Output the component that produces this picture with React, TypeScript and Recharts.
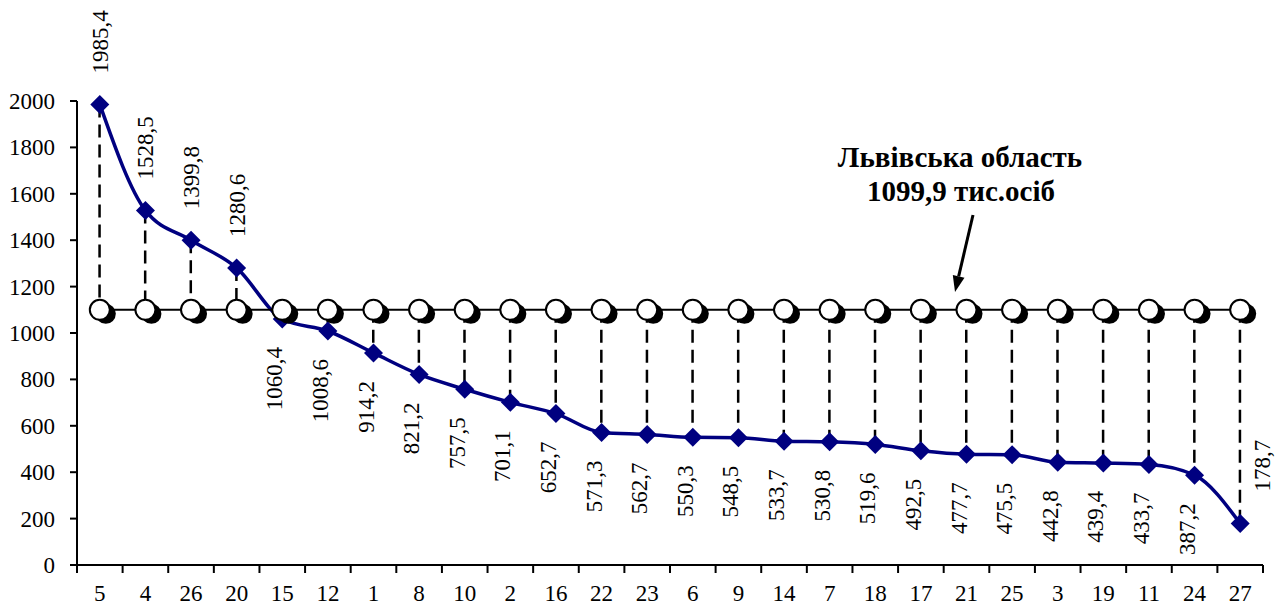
import React from "react";
import { Bar, ComposedChart, Line, XAxis, YAxis } from "recharts";

const WIDTH = 1275;
const HEIGHT = 612;
const FONT = "'Liberation Serif', 'Times New Roman', serif";
const TEXT_STYLE = { fontFamily: FONT, fontSize: 23, fill: "#000" };

const districts = ["5", "4", "26", "20", "15", "12", "1", "8", "10", "2", "16", "22", "23", "6", "9", "14", "7", "18", "17", "21", "25", "3", "19", "11", "24", "27"];
const population = [1985.4, 1528.5, 1399.8, 1280.6, 1060.4, 1008.6, 914.2, 821.2, 757.5, 701.1, 652.7, 571.3, 562.7, 550.3, 548.5, 533.7, 530.8, 519.6, 492.5, 477.7, 475.5, 442.8, 439.4, 433.7, 387.2, 178.7];
const regionAverage = 1099.9;
const yTicks = [0, 200, 400, 600, 800, 1000, 1200, 1400, 1600, 1800, 2000];

const data = districts.map((name, i) => ({
  name,
  value: population[i],
  region: regionAverage,
  gap: [Math.min(population[i], regionAverage), Math.max(population[i], regionAverage)],
}));

const MARGIN = { top: 101, right: 12, left: 0, bottom: 0 };
const Y_AXIS_W = 77;
const X_AXIS_H = 47;
const STEP = (WIDTH - MARGIN.right - Y_AXIS_W) / districts.length;

const fmt = (v: number) => v.toFixed(1).replace(".", ",");

// dashed connector between a district value and the regional level
function DashShape(props: any) {
  const { x, y, width, height } = props;
  const cx = x + width / 2;
  return <line x1={cx} y1={y} x2={cx} y2={y + height} stroke="#000" strokeWidth={2.5} strokeDasharray="13 7" />;
}

function Diamond(props: any) {
  const { cx, cy } = props;
  if (cx == null || cy == null) return null;
  const r = 9.5;
  return <polygon points={`${cx},${cy - r} ${cx + r},${cy} ${cx},${cy + r} ${cx - r},${cy}`} fill="#000080" />;
}

function RingDot(props: any) {
  const { cx, cy } = props;
  if (cx == null || cy == null) return null;
  return (
    <g>
      <circle cx={cx + 6} cy={cy + 4} r={10} fill="#000" />
      <circle cx={cx} cy={cy} r={10} fill="#fff" stroke="#000" strokeWidth={2} />
    </g>
  );
}

function ValueLabel(props: any) {
  const { x, y, index, value } = props;
  if (x == null || y == null) return null;
  const last = index === population.length - 1;
  let ax = x, ay = y, anchor = "end";
  if (last) {
    ax = x + 22; ay = y - 58; anchor = "middle";
  } else if (value > regionAverage) {
    ay = y - 31; anchor = "start";
  } else {
    ax = x - 8; ay = y + 28; anchor = "end";
  }
  return (
    <text x={ax} y={ay} dy="0.35em" transform={`rotate(-90, ${ax}, ${ay})`} textAnchor={anchor} style={TEXT_STYLE}>
      {fmt(value)}
    </text>
  );
}

function XTick(props: any) {
  const { x, y, payload, index } = props;
  const last = index === districts.length - 1;
  return (
    <g>
      <line x1={x - STEP / 2} y1={y - 8} x2={x - STEP / 2} y2={y} stroke="#000" strokeWidth={2} />
      {last && <line x1={x + STEP / 2} y1={y - 8} x2={x + STEP / 2} y2={y} stroke="#000" strokeWidth={2} />}
      <text x={x} y={y + 28} textAnchor="middle" style={TEXT_STYLE}>
        {payload.value}
      </text>
    </g>
  );
}

function YTick(props: any) {
  const { x, y, payload } = props;
  return (
    <text x={x - 13} y={y} dy="0.35em" textAnchor="end" style={TEXT_STYLE}>
      {payload.value}
    </text>
  );
}

function Annotation() {
  const tip = { x: 955, y: 292 };
  const tail = { x: 973, y: 215 };
  const dx = tip.x - tail.x, dy = tip.y - tail.y;
  const len = Math.hypot(dx, dy);
  const ux = dx / len, uy = dy / len;
  const bx = tip.x - ux * 16, by = tip.y - uy * 16;
  const px = -uy, py = ux;
  const titleStyle = { fontFamily: FONT, fontSize: 29, fontWeight: "bold" as const, fill: "#000" };
  return (
    <svg width={WIDTH} height={HEIGHT} style={{ position: "absolute", left: 0, top: 0, pointerEvents: "none" }}>
      <text x={960} y={167} textAnchor="middle" style={titleStyle}>Львівська область</text>
      <text x={961} y={201} textAnchor="middle" style={titleStyle}>1099,9 тис.осіб</text>
      <line x1={tail.x} y1={tail.y} x2={bx} y2={by} stroke="#000" strokeWidth={3} />
      <polygon points={`${tip.x},${tip.y} ${bx + px * 6},${by + py * 6} ${bx - px * 6},${by - py * 6}`} fill="#000" />
    </svg>
  );
}

export default function App() {
  return (
    <div style={{ position: "absolute", left: 0, top: 0, width: WIDTH, height: HEIGHT, background: "#fff" }}>
      <ComposedChart width={WIDTH} height={HEIGHT} data={data} margin={MARGIN}>
        <XAxis dataKey="name" height={X_AXIS_H} tickLine={false} axisLine={{ stroke: "#000", strokeWidth: 2 }}
          tick={<XTick />} interval={0} />
        <YAxis domain={[0, 2000]} ticks={yTicks} width={Y_AXIS_W} interval={0}
          axisLine={{ stroke: "#000", strokeWidth: 2 }} tickLine={{ stroke: "#000", strokeWidth: 2 }} tickSize={7}
          tick={<YTick />} />
        <Bar dataKey="gap" shape={<DashShape />} isAnimationActive={false} />
        <Line type="monotone" dataKey="value" stroke="#000080" strokeWidth={3.5} dot={<Diamond />}
          activeDot={false} label={<ValueLabel />} isAnimationActive={false} />
        <Line type="linear" dataKey="region" stroke="#000" strokeWidth={2} dot={<RingDot />}
          activeDot={false} isAnimationActive={false} />
      </ComposedChart>
      <Annotation />
    </div>
  );
}
